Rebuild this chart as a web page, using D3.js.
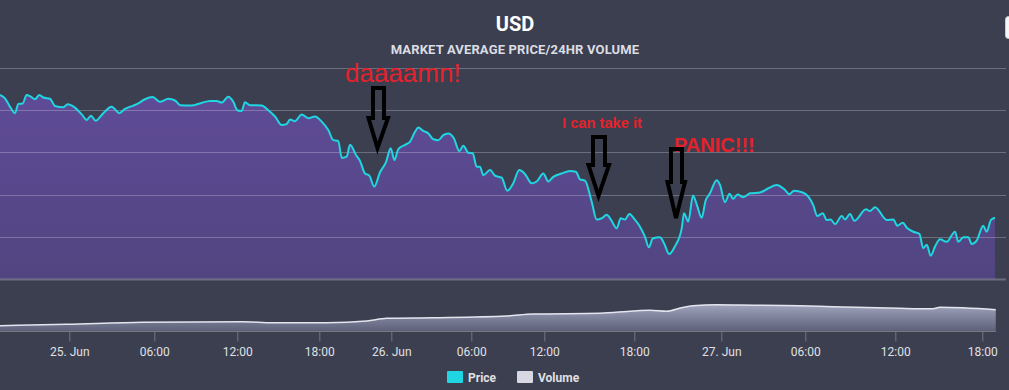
<!DOCTYPE html>
<html>
<head>
<meta charset="utf-8">
<script src="https://cdn.jsdelivr.net/npm/d3@7"></script>
<style>
  html, body { margin: 0; padding: 0; background: #3b3f50; }
  svg { display: block; font-family: Roboto, "Noto Sans", sans-serif; }
</style>
</head>
<body>
<svg id="chart" width="1009" height="390"></svg>
<script>
// ---------------- data ----------------
// hours since 25 Jun 2017 00:00
const priceHours = [
  -4.89,-4.54,-4.18,-3.83,-3.60,-3.29,-3.01,-2.72,-2.42,-2.12,-1.83,-1.36,-1.01,-0.42,-0.11,
  0.40,0.88,1.23,1.53,1.86,2.40,2.99,3.53,3.93,4.52,4.87,5.34,5.89,
  6.41,7.01,7.50,7.86,8.70,9.30,10.03,10.51,10.87,11.35,11.71,12.00,
  12.32,12.56,12.93,13.78,14.27,14.76,15.25,15.61,15.86,16.22,16.71,17.19,17.68,
  18.20,18.75,19.17,19.58,19.87,20.28,20.56,21.06,21.39,21.81,22.17,22.58,23.06,23.56,23.95,
  24.23,24.53,25.03,25.40,25.78,26.03,26.40,26.78,27.15,27.53,27.90,28.28,28.70,29.10,29.40,29.78,
  30.12,30.44,30.71,30.99,31.54,31.95,32.50,32.96,33.45,33.94,34.41,34.96,35.37,35.92,
  36.27,36.60,37.16,37.71,38.11,38.38,38.71,39.16,39.49,39.83,40.16,40.45,40.83,41.09,41.38,41.67,
  42.05,42.39,42.74,43.01,43.27,43.77,44.05,44.41,44.81,45.27,45.43,45.72,46.05,46.32,46.65,46.91,47.22,47.68,47.91,
  48.26,48.59,48.84,49.16,49.57,50.05,50.76,51.36,51.96,52.55,52.86,53.19,53.81,
  54.20,54.53,54.80,55.16,55.43,55.69,55.98,56.43,56.65,56.98,57.27,58.05,58.31,58.65,59.43,59.87,
  60.14,60.51,60.83,61.24,61.66,61.93,62.17,62.44,62.74,63.08,63.54,64.12,64.34,64.69,65.03,65.27,65.61,66.07,66.30,66.60,66.88
];
const priceValues = [
  2636,2628,2608,2593,2615,2616,2636,2632,2626,2636,2630,2627,2610,2607,2614,
  2606,2590,2577,2587,2575,2593,2608,2593,2603,2611,2616,2626,2631,
  2620,2627,2623,2612,2611,2616,2622,2622,2618,2632,2620,2600,
  2598,2619,2612,2611,2600,2585,2565,2567,2578,2574,2590,2581,2585,
  2573,2553,2529,2527,2487,2490,2518,2494,2480,2450,2445,2419,2453,2477,2510,
  2482,2508,2518,2525,2549,2559,2551,2545,2531,2529,2541,2545,2533,2503,2516,2499,
  2498,2466,2466,2446,2458,2445,2440,2409,2427,2458,2449,2427,2431,2450,
  2431,2442,2450,2456,2454,2436,2433,2383,2341,2344,2352,2340,2320,2344,2341,2354,
  2340,2324,2300,2275,2296,2299,2285,2259,2278,2320,2356,2336,2398,2375,2345,2385,2403,2434,2423,
  2382,2402,2390,2400,2394,2403,2405,2415,2423,2411,2401,2409,2405,
  2395,2375,2349,2356,2340,2341,2330,2349,2341,2354,2338,2365,2361,2370,2340,2341,
  2326,2333,2320,2312,2307,2273,2281,2255,2277,2294,2288,2312,2288,2299,2299,2283,2291,2326,2312,2340,2345
];
const volumeHours = [-4.89,-0.18,5.20,12.42,14.61,18.62,21.95,23.62,27.13,32.91,35.07,39.71,41.91,43.08,44.23,45.27,46.05,47.68,49.34,53.62,55.85,60.32,62.60,63.08,66.93];
const volumeValues = [5300,6700,8700,9300,8200,8300,10000,12700,13300,15000,17000,17700,20000,20700,19700,23300,25300,26300,26000,25300,24300,22700,22300,23700,21300];

const tickHours  = [0,6,12,18,24,30,36,42,48,54,60,66];
const tickLabels = ["25. Jun","06:00","12:00","18:00","26. Jun","06:00","12:00","18:00","27. Jun","06:00","12:00","18:00"];
const priceGridValues = [2200,2300,2400,2500,2600,2700];

const seriesNames  = ["Price","Volume"];
const seriesColors = ["#1fd6e2","#d7d8e2"];

// ---------------- setup ----------------
const base = Date.UTC(2017,5,25,0,0);
const toDate = h => new Date(base + h*3600000);

const svg = d3.select("#chart");
const W = 1009, H = 390;

svg.append("rect").attr("width",W).attr("height",H).attr("fill","#3b3f50");

// ordinal-like time axis: piecewise time scale
const xDomainHours = [-4.89].concat(tickHours).concat([67.0]);
const xRangePx = [0, 69.3,154.3,237.3,319.3,391.3,471.3,544.3,634.3,721.3,805.3,895.3,982.3, 996.8];
const x = d3.scaleUtc().domain(xDomainHours.map(toDate)).range(xRangePx);

const y = d3.scaleLinear().domain([2200,2700]).range([279,68]);
const yv = d3.scaleLinear().domain([0,35000]).range([331,296]);

const defs = svg.append("defs");
const pg = defs.append("linearGradient").attr("id","priceFill")
  .attr("gradientUnits","userSpaceOnUse").attr("x1",0).attr("x2",0).attr("y1",90).attr("y2",279);
pg.append("stop").attr("offset","0%").attr("stop-color","#5f4b98");
pg.append("stop").attr("offset","100%").attr("stop-color","#514580");

const vg = defs.append("linearGradient").attr("id","volFill")
  .attr("gradientUnits","userSpaceOnUse").attr("x1",0).attr("x2",0).attr("y1",303).attr("y2",331);
vg.append("stop").attr("offset","0%").attr("stop-color","#a3a7c0");
vg.append("stop").attr("offset","100%").attr("stop-color","#5c6078");

const priceData = priceHours.map((h,i)=>({t:toDate(h), v:priceValues[i]}));
const volData = volumeHours.map((h,i)=>({t:toDate(h), v:volumeValues[i]}));

// price area
const area = d3.area().x(d=>x(d.t)).y0(y(2200)).y1(d=>y(d.v)).curve(d3.curveMonotoneX);
svg.append("path").datum(priceData).attr("d",area).attr("fill","url(#priceFill)");

// grid lines
svg.append("g").selectAll("line").data(priceGridValues).join("line")
  .attr("x1",0).attr("x2",1006)
  .attr("y1",d=>Math.round(y(d))+0.5).attr("y2",d=>Math.round(y(d))+0.5)
  .attr("stroke","rgba(235,235,245,0.27)").attr("stroke-width",d=>d===2200?2:1);

// price line
const line = d3.line().x(d=>x(d.t)).y(d=>y(d.v)).curve(d3.curveMonotoneX);
svg.append("path").datum(priceData).attr("d",line)
  .attr("fill","none").attr("stroke",seriesColors[0]).attr("stroke-width",2);

// volume
const varea = d3.area().x(d=>x(d.t)).y0(yv(0)).y1(d=>yv(d.v)).curve(d3.curveMonotoneX);
svg.append("path").datum(volData).attr("d",varea).attr("fill","url(#volFill)");
const vline = d3.line().x(d=>x(d.t)).y(d=>yv(d.v)).curve(d3.curveMonotoneX);
svg.append("path").datum(volData).attr("d",vline)
  .attr("fill","none").attr("stroke","#e4e5ee").attr("stroke-width",1.5);

// x axis
const xAxis = d3.axisBottom(x)
  .tickValues(tickHours.map(toDate))
  .tickFormat((d,i)=>tickLabels[i])
  .tickSize(10).tickPadding(6).tickSizeOuter(0);
const gx = svg.append("g").attr("transform","translate(0,331.5)").call(xAxis);
gx.select(".domain").attr("stroke","#767680").attr("d","M0,0H996");
gx.selectAll(".tick line").attr("stroke","#767680");
gx.selectAll(".tick text").attr("fill","#e0e0e3").attr("font-size","12px")
  .attr("font-family","Roboto, sans-serif");

// titles
svg.append("text").attr("x",515).attr("y",31).attr("text-anchor","middle")
  .attr("fill","#ffffff").attr("font-size","20px").attr("font-weight","bold").text("USD");
svg.append("text").attr("x",515).attr("y",54).attr("text-anchor","middle")
  .attr("fill","#dcdde3").attr("font-size","13px").attr("letter-spacing","0.15px")
  .attr("font-weight","bold").text("MARKET AVERAGE PRICE/24HR VOLUME");

// export button (partially visible)
svg.append("rect").attr("x",1005.5).attr("y",16.5).attr("width",24).attr("height",22).attr("rx",3)
  .attr("fill","#f7f7f7").attr("stroke","#cccccc");

// annotations
const red = "#e5222b";
svg.append("text").attr("x",345).attr("y",82).attr("fill",red)
  .attr("font-family","'Liberation Sans', Arial, sans-serif").attr("font-size","26px").text("daaaamn!");
svg.append("text").attr("x",562).attr("y",127.5).attr("fill",red).attr("font-weight","bold")
  .attr("font-family","'Liberation Sans', Arial, sans-serif").attr("font-size","14.7px").text("I can take it");
svg.append("text").attr("x",674).attr("y",152).attr("fill",red).attr("font-weight","bold")
  .attr("font-family","'Liberation Sans', Arial, sans-serif").attr("font-size","20px").text("PANIC!!!");

function arrow(x0, x1, yTop, yHead, hl, hr, tipX, tipY) {
  const p = d3.path();
  p.moveTo(x0, yTop); p.lineTo(x1, yTop); p.lineTo(x1, yHead); p.lineTo(hr, yHead);
  p.lineTo(tipX, tipY); p.lineTo(hl, yHead); p.lineTo(x0, yHead); p.closePath();
  svg.append("path").attr("d", p.toString()).attr("fill","none")
    .attr("stroke","#000").attr("stroke-width",4).attr("stroke-linejoin","miter");
}
arrow(373, 384, 88, 118, 368.5, 388, 377.5, 148);
arrow(593, 605, 137, 165, 588.5, 609, 598.5, 196);
arrow(671, 682, 149, 182, 667.5, 685, 676, 218);

// legend
const leg = svg.append("g");
[[447,0],[517,1]].forEach(([lx,i])=>{
  leg.append("rect").attr("x",lx).attr("y",371).attr("width",16).attr("height",12).attr("rx",1)
    .attr("fill",seriesColors[i]);
  leg.append("text").attr("x",lx+21).attr("y",382).attr("fill","#e0e0e3")
    .attr("font-size","12px").attr("font-weight","bold").text(seriesNames[i]);
});
</script>
</body>
</html>
